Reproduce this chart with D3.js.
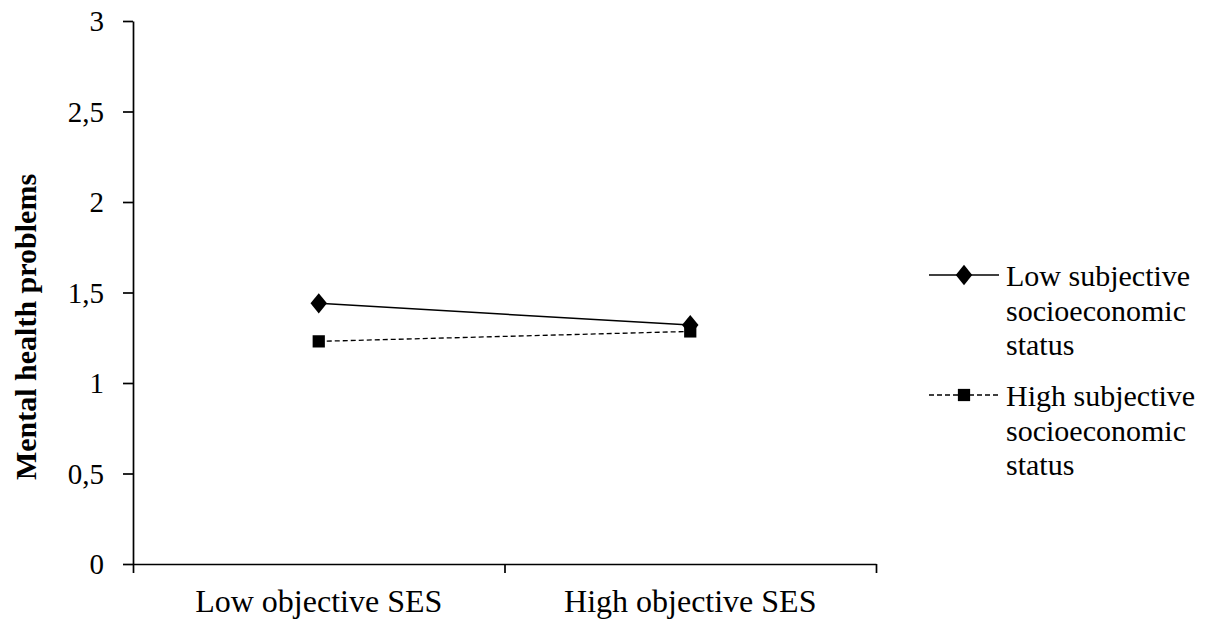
<!DOCTYPE html>
<html>
<head>
<meta charset="utf-8">
<script src="https://cdn.jsdelivr.net/npm/d3@7"></script>
<style>
  html, body { margin: 0; padding: 0; background: #fff; }
  svg { display: block; }
  text { font-family: "Liberation Serif", "Times New Roman", serif; fill: #000; }
</style>
</head>
<body>
<svg id="chart" width="1209" height="625"></svg>
<script>
// ---- data ----
const categories = ["Low objective SES", "High objective SES"];
const lowSubjective = [1.44, 1.32];
const highSubjective = [1.23, 1.285];
const seriesNames = [["Low subjective", "socioeconomic", "status"], ["High subjective", "socioeconomic", "status"]];
const yTickValues = [0, 0.5, 1, 1.5, 2, 2.5, 3];
const yTickLabels = ["0", "0,5", "1", "1,5", "2", "2,5", "3"];
const yTitle = "Mental health problems";

// ---- layout ----
const svg = d3.select("#chart");
const plotLeft = 133, plotRight = 876, plotTop = 21, plotBottom = 564;

const y = d3.scaleLinear().domain([0, 3]).range([plotBottom, plotTop]);
const xBand = d3.scaleBand().domain(categories).range([plotLeft, plotRight]).padding(0);
const xEdge = d3.scaleLinear().domain([0, categories.length]).range([plotLeft, plotRight]);
const cx = c => xBand(c) + xBand.bandwidth() / 2;

// y axis
const yAxis = d3.axisLeft(y)
  .tickValues(yTickValues)
  .tickFormat((d, i) => yTickLabels[i])
  .tickSize(10).tickSizeOuter(0).tickPadding(19);
const gy = svg.append("g").attr("transform", `translate(${plotLeft},0)`).call(yAxis);
gy.selectAll("path, line").attr("stroke", "#000").attr("stroke-width", 1.7);
gy.selectAll("text").style("font-size", "29px").attr("dy", "0.34em")
  .style("font-family", '"Liberation Serif", serif').attr("fill", "#000");

// x axis (ticks at category boundaries)
const xAxis = d3.axisBottom(xEdge)
  .tickValues(d3.range(categories.length + 1))
  .tickFormat("")
  .tickSize(9).tickSizeOuter(0);
const gx = svg.append("g").attr("transform", `translate(0,${plotBottom})`).call(xAxis);
gx.selectAll("path, line").attr("stroke", "#000").attr("stroke-width", 1.7);

// x category labels
svg.append("g").selectAll("text").data(categories).join("text")
  .attr("x", d => cx(d)).attr("y", 612)
  .attr("text-anchor", "middle")
  .style("font-size", "32px")
  .text(d => d);

// y title
svg.append("text")
  .attr("transform", `translate(36,${327}) rotate(-90)`)
  .attr("text-anchor", "middle")
  .style("font-size", "30px").style("font-weight", "bold")
  .text(yTitle);

// lines
const line = d3.line().x((d, i) => cx(categories[i])).y(d => y(d));
svg.append("path").datum(lowSubjective).attr("d", line)
  .attr("fill", "none").attr("stroke", "#000").attr("stroke-width", 1.5);
svg.append("path").datum(highSubjective).attr("d", line)
  .attr("fill", "none").attr("stroke", "#000").attr("stroke-width", 1.3)
  .attr("stroke-dasharray", "5,3");

const diamond = d3.symbol().type(d3.symbolDiamond).size(120);
const square = d3.symbol().type(d3.symbolSquare).size(150);

svg.append("g").selectAll("path").data(lowSubjective).join("path")
  .attr("d", diamond)
  .attr("transform", (d, i) => `translate(${cx(categories[i])},${y(d)}) scale(1.4,1)`)
  .attr("fill", "#000");
svg.append("g").selectAll("path").data(highSubjective).join("path")
  .attr("d", square)
  .attr("transform", (d, i) => `translate(${cx(categories[i])},${y(d)})`)
  .attr("fill", "#000");

// legend
const legY = [275, 395];
const lg = svg.append("g");
lg.append("line").attr("x1", 929).attr("x2", 999).attr("y1", legY[0]).attr("y2", legY[0])
  .attr("stroke", "#000").attr("stroke-width", 1.5);
lg.append("path").attr("d", diamond).attr("transform", `translate(964,${legY[0]}) scale(1.4,1)`).attr("fill", "#000");
lg.append("line").attr("x1", 929).attr("x2", 999).attr("y1", legY[1]).attr("y2", legY[1])
  .attr("stroke", "#000").attr("stroke-width", 1.3).attr("stroke-dasharray", "5,3");
lg.append("path").attr("d", square).attr("transform", `translate(964,${legY[1]})`).attr("fill", "#000");

seriesNames.forEach((lines, k) => {
  const t = lg.append("text").attr("x", 1006).attr("y", legY[k] + 11).style("font-size", "30px");
  lines.forEach((s, j) => {
    t.append("tspan").attr("x", 1006).attr("dy", j === 0 ? 0 : 34.5).text(s);
  });
});
</script>
</body>
</html>
